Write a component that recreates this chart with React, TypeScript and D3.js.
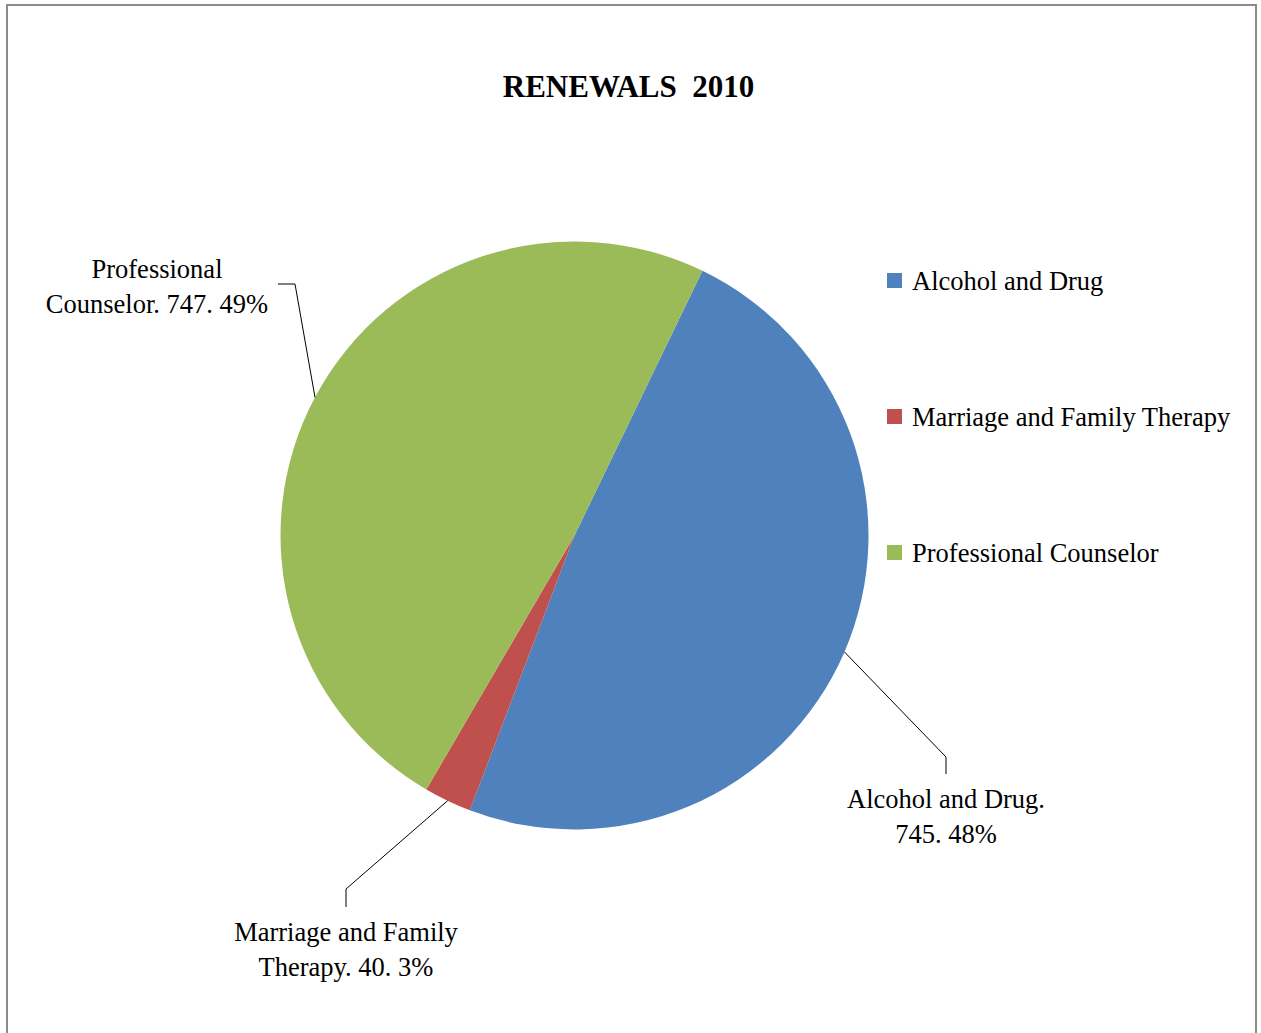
import React from "react";
import * as d3 from "d3";

const categories = ["Alcohol and Drug", "Marriage and Family Therapy", "Professional Counselor"];
const values = [745, 40, 747];
const labelLines = [
  ["Alcohol and Drug.", "745. 48%"],
  ["Marriage and Family", "Therapy. 40. 3%"],
  ["Professional", "Counselor. 747. 49%"],
];
const colors = ["#4F81BD", "#C0504D", "#9BBB59"];
const title = "RENEWALS  2010";

const W = 1261;
const H = 1033;
const cx = 574.5;
const cy = 535.5;
const R = 294;
const startDeg = 25.8;

// label layout: text block center x, first baseline y, leader elbow point and end
const labelLayout = [
  { x: 946, y: 808, elbow: [946, 757], end: [946, 774] },
  { x: 346, y: 941, elbow: [346, 889], end: [346, 907] },
  { x: 157, y: 278, elbow: [295, 284], end: [278, 284] },
];

export default function App() {
  const start = (startDeg * Math.PI) / 180;
  const pie = d3
    .pie<number>()
    .sort(null)
    .startAngle(start)
    .endAngle(start + 2 * Math.PI);
  const arcs = pie(values);
  const arc = d3.arc<d3.PieArcDatum<number>>().innerRadius(0).outerRadius(R);
  const font = "'Liberation Serif', 'Times New Roman', serif";

  return (
    <svg
      width={W}
      height={H}
      style={{ position: "absolute", left: 0, top: 0, background: "#fff" }}
    >
      <rect x={7} y={5} width={1249} height={1060} fill="#fff" stroke="#8c8c8c" strokeWidth={2} />
      <text
        x={628.5}
        y={97}
        textAnchor="middle"
        fontFamily={font}
        fontWeight="bold"
        fontSize={31}
        style={{ whiteSpace: "pre" }}
      >
        {title}
      </text>
      <g transform={`translate(${cx},${cy})`}>
        {arcs.map((a, i) => (
          <path key={i} d={arc(a) || ""} fill={colors[i]} />
        ))}
      </g>
      {arcs.map((a, i) => {
        const mid = (a.startAngle + a.endAngle) / 2;
        const px = cx + R * Math.sin(mid);
        const py = cy - R * Math.cos(mid);
        const L = labelLayout[i];
        return (
          <g key={i}>
            <polyline
              points={`${px},${py} ${L.elbow[0]},${L.elbow[1]} ${L.end[0]},${L.end[1]}`}
              fill="none"
              stroke="#000"
              strokeWidth={1}
            />
            {labelLines[i].map((t, j) => (
              <text
                key={j}
                x={L.x}
                y={L.y + j * 35}
                textAnchor="middle"
                fontFamily={font}
                fontSize={26.5}
                fill="#000"
              >
                {t}
              </text>
            ))}
          </g>
        );
      })}
      {categories.map((c, i) => (
        <g key={c} transform={`translate(887,${273 + i * 136})`}>
          <rect width={15} height={15} fill={colors[i]} />
          <text x={25} y={17} fontFamily={font} fontSize={26.5} fill="#000">
            {c}
          </text>
        </g>
      ))}
    </svg>
  );
}
